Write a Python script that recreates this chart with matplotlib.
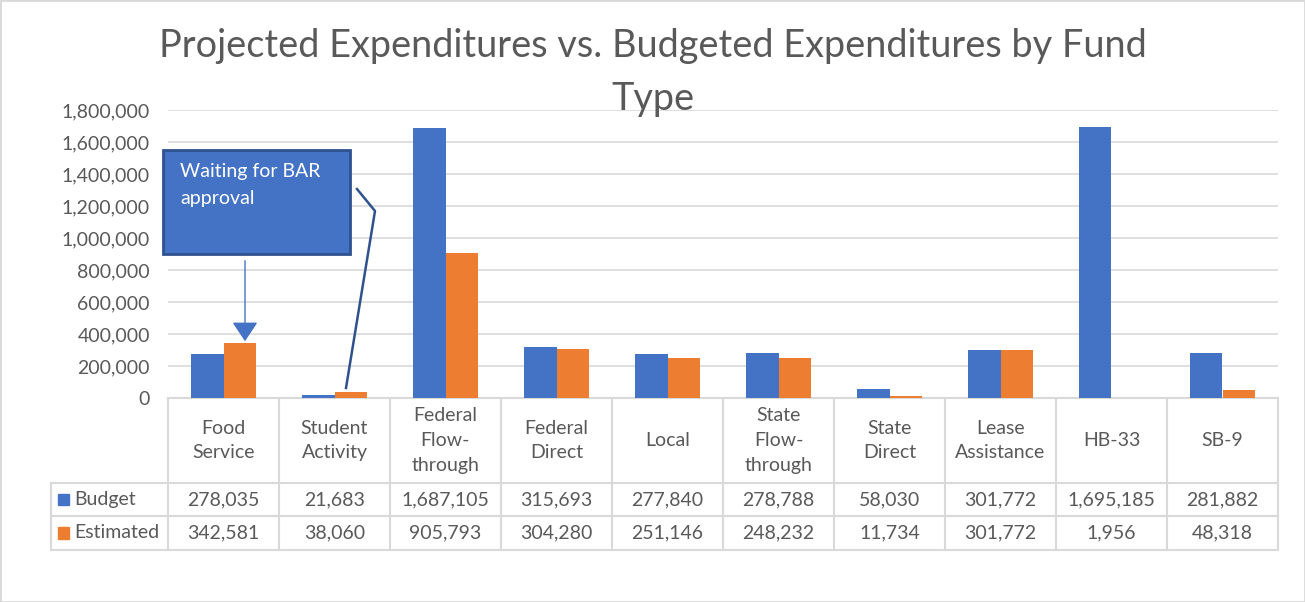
import numpy as np
import matplotlib.pyplot as plt
from matplotlib.transforms import blended_transform_factory
from matplotlib.patches import Rectangle, FancyArrowPatch

categories = ['Food\nService', 'Student\nActivity', 'Federal\nFlow-\nthrough', 'Federal\nDirect',
              'Local', 'State\nFlow-\nthrough', 'State\nDirect', 'Lease\nAssistance', 'HB-33', 'SB-9']
budget = [278035, 21683, 1687105, 315693, 277840, 278788, 58030, 301772, 1695185, 281882]
estimated = [342581, 38060, 905793, 304280, 251146, 248232, 11734, 301772, 1956, 48318]
yticks = np.arange(0, 1800001, 200000)

blue = '#4472C4'
orange = '#ED7D31'
grid = '#D9D9D9'
txt = '#595959'

plt.rcParams['font.family'] = ['Lato', 'DejaVu Sans']

fig = plt.figure(figsize=(13.05, 6.02), dpi=100)
W, H = 1305, 602
ax = fig.add_axes([168 / W, 1 - 398 / H, 1110 / W, 288 / H])

x = np.arange(len(categories))
bw = 0.29
ax.bar(x - bw / 2, budget, bw, color=blue, label='Budget', zorder=3)
ax.bar(x + bw / 2, estimated, bw, color=orange, label='Estimated', zorder=3)

ax.set_xlim(-0.5, len(categories) - 0.5)
ax.set_ylim(0, 1800000)
ax.set_yticks(yticks)
ax.set_yticklabels([f'{v:,}' for v in yticks], fontsize=14, color=txt)
ax.tick_params(axis='y', length=0, pad=13)
ax.set_xticks([])
ax.grid(axis='y', color=grid, lw=1.2, zorder=0)
for s in ax.spines.values():
    s.set_visible(False)

fig.text(0.5, 1 - 28 / H, 'Projected Expenditures vs. Budgeted Expenditures by Fund\nType',
         fontsize=27.3, color=txt, ha='center', va='top', linespacing=1.58)

# data table below the axes
tr = blended_transform_factory(ax.transData, ax.transAxes)
ah = 288
r0, r1, r2 = -85 / ah, -118 / ah, -152 / ah
xl = -0.5 - 117 / 111.0
xr = len(categories) - 0.5
lk = dict(color=grid, lw=1.5, transform=tr, clip_on=False)
ax.plot([-0.5, xr], [0, 0], **lk)
for y in (r0, r1, r2):
    ax.plot([xl, xr], [y, y], **lk)
for i in range(len(categories) + 1):
    ax.plot([i - 0.5, i - 0.5], [0, r2], **lk)
ax.plot([xl, xl], [r0, r2], **lk)

fs = 14
for i, c in enumerate(categories):
    ax.text(i, r0 / 2, c, transform=tr, ha='center', va='center', fontsize=fs,
            color=txt, linespacing=1.55)
    ax.text(i, (r0 + r1) / 2, f'{budget[i]:,}', transform=tr, ha='center', va='center',
            fontsize=fs, color=txt)
    ax.text(i, (r1 + r2) / 2, f'{estimated[i]:,}', transform=tr, ha='center', va='center',
            fontsize=fs, color=txt)

for (y0, y1), name, col in [((r0, r1), 'Budget', blue), ((r1, r2), 'Estimated', orange)]:
    ym = (y0 + y1) / 2
    ax.add_patch(Rectangle((xl + 0.06, ym - 0.02), 0.1, 0.04, color=col, transform=tr, clip_on=False))
    ax.text(xl + 0.21, ym, name, transform=tr, ha='left', va='center', fontsize=fs, color=txt)

# callout
fa = fig.transFigure
fig.patches.append(Rectangle((163 / W, 1 - 254 / H), 187 / W, 104 / H, transform=fa,
                             facecolor=blue, edgecolor='#2F528F', lw=2))
fig.text(180 / W, 1 - 163 / H, 'Waiting for BAR\napproval', color='white', fontsize=14,
         va='top', ha='left', linespacing=1.72)
fig.patches.append(FancyArrowPatch((245 / W, 1 - 258 / H), (245 / W, 1 - 344 / H), transform=fa,
                                   arrowstyle='-|>,head_length=6,head_width=4', color=blue, lw=1,
                                   mutation_scale=2))
fig.lines.append(plt.Line2D([357 / W, 375 / W, 346 / W], [1 - 189 / H, 1 - 211 / H, 1 - 388 / H],
                            transform=fa, color='#2F528F', lw=1.8))

# outer border
fig.patches.append(Rectangle((0, 0), 1, 1, transform=fa, fill=False, edgecolor='#D9D9D9', lw=2))

fig.savefig('out.png', dpi=100)
